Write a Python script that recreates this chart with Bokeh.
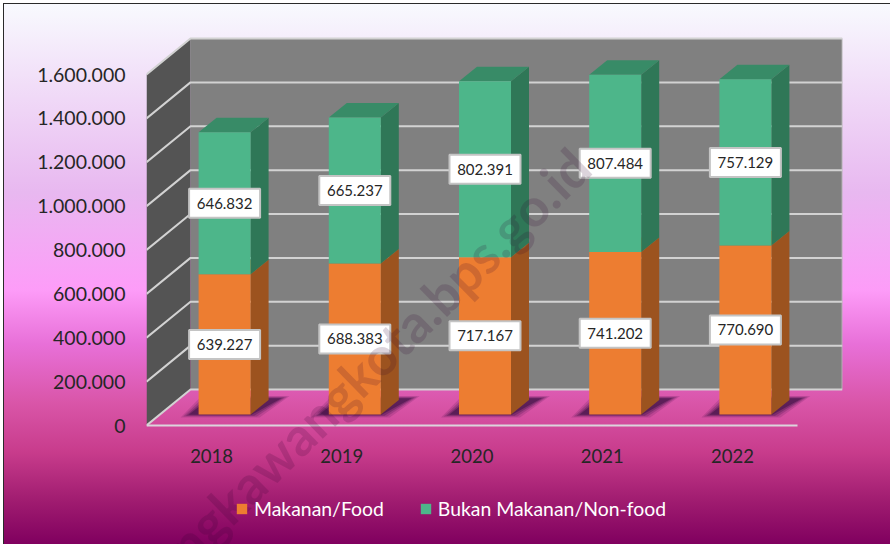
from bokeh.embed import file_html
from bokeh.resources import INLINE
from bokeh.plotting import figure
from bokeh.models import FixedTicker, Legend, LegendItem, Label, ColumnDataSource, Range1d

years = ["2018", "2019", "2020", "2021", "2022"]
food = [639227, 688383, 717167, 741202, 770690]
nonfood = [646832, 665237, 802391, 807484, 757129]
y_ticks = [0, 200000, 400000, 600000, 800000, 1000000, 1200000, 1400000, 1600000]
FONT = "Lato"

def fmt(v):
    return f"{v:,}".replace(",", ".")

# page geometry
FIG_X, FIG_Y, W, H = 3, 3, 887, 541
F_L, F_R, F_T, F_B = 146, 842, 36, 544
ZERO_PX = 425            # page y of the value 0
SX = 130.2               # px per category
SY = 351 / 1600000       # px per value
x0, x1 = -0.5, -0.5 + (F_R - F_L) / SX
y0, y1 = -(F_B - ZERO_PX) / SY, (ZERO_PX - F_T) / SY

# 3D offsets, in data units
WALL_DX, WALL_DY = 44 / SX, 36 / SY
BAR_W = 52 / SX
BAR_SHIFT = 13 / SX
BAR_BASE = 11 / SY
BAR_DX, BAR_DY = 18 / SX, 14.5 / SY
ymax = y_ticks[-1]
xn = len(years) - 0.5

p = figure(width=W, height=H, output_backend="svg", toolbar_location=None,
           x_range=Range1d(x0, x1), y_range=Range1d(y0, y1),
           min_border_left=F_L - FIG_X, min_border_right=FIG_X + W - F_R,
           min_border_top=F_T - FIG_Y, min_border_bottom=0,
           border_fill_color=None, background_fill_color=None, outline_line_color=None)
p.styles = {"position": "absolute", "left": f"{FIG_X}px", "top": f"{FIG_Y}px",
            "box-shadow": "inset 1px 1px 0 #2a2a2a",
            "background": "linear-gradient(180deg,#f8fafe 0%,#e8b8f0 35%,#fd9cf8 53%,"
                          "#e870d8 63%,#d955a8 74%,#c83c8c 83%,#a01c70 92%,#80005f 100%)"}
p.grid.visible = False

# axes
p.yaxis.ticker = FixedTicker(ticks=y_ticks)
p.yaxis.major_label_overrides = {t: fmt(t) for t in y_ticks}
p.xaxis.ticker = FixedTicker(ticks=list(range(len(years))))
p.xaxis.major_label_overrides = {i: y for i, y in enumerate(years)}
for ax in (p.xaxis[0], p.yaxis[0]):
    ax.axis_line_color = None
    ax.major_tick_line_color = None
    ax.minor_tick_line_color = None
    ax.major_label_text_font = FONT
    ax.major_label_text_color = "#262626"
p.yaxis.major_label_text_font_size = "19.5px"
p.xaxis.major_label_text_font_size = "18.5px"
p.yaxis.major_label_standoff = 15
p.xaxis.major_label_standoff = 442 - F_B

# walls
p.patch([x0 + WALL_DX, x1, x1, x0 + WALL_DX], [WALL_DY, WALL_DY, ymax + WALL_DY, ymax + WALL_DY],
        fill_color="#808080", line_color=None)
p.patch([x0, x0 + WALL_DX, x0 + WALL_DX, x0], [0, WALL_DY, ymax + WALL_DY, ymax],
        fill_color="#545454", line_color=None)
p.line([x1, x1], [WALL_DY, ymax + WALL_DY], line_color="#d2d2d2", line_width=2, line_alpha=0.6)

# gridlines
grid_x = [[x0, x0 + WALL_DX, x1] for _ in y_ticks]
grid_y = [[t, t + WALL_DY, t + WALL_DY] for t in y_ticks]
p.multi_line(grid_x, grid_y, line_color="#d2d2d2", line_width=2)
p.line([x0, xn], [0, 0], line_color="#dcd4dc", line_width=2)

# bars
for i, (f, n) in enumerate(zip(food, nonfood)):
    cx = i + BAR_SHIFT
    l, r = cx - BAR_W / 2, cx + BAR_W / 2
    b = BAR_BASE
    # soft floor shadow
    for grow, alpha in ((1.0, 0.14), (0.7, 0.2), (0.4, 0.28), (0.1, 0.42)):
        gx, gy = grow * 9 / SX, grow * 5 / SY
        p.patch([l - 9 / SX - gx, r + gx, r + 30 / SX + gx, l + 12 / SX - gx],
                [b - gy * 0.6, b - gy * 0.6, b + 16 / SY + gy * 0.5, b + 16 / SY + gy * 0.5],
                fill_color="#2a0a3a", fill_alpha=alpha, line_color=None)

def faces(bottoms, tops, front, side, top):
    xl = [i + BAR_SHIFT - BAR_W / 2 for i in range(len(years))]
    xr = [i + BAR_SHIFT + BAR_W / 2 for i in range(len(years))]
    p.patches([[r, r + BAR_DX, r + BAR_DX, r] for r in xr],
              [[b, b + BAR_DY, t + BAR_DY, t] for b, t in zip(bottoms, tops)],
              fill_color=side, line_color=None)
    p.patches([[l, r, r + BAR_DX, l + BAR_DX] for l, r in zip(xl, xr)],
              [[t, t, t + BAR_DY, t + BAR_DY] for t in tops],
              fill_color=top, line_color=None)
    return p.quad(left=xl, right=xr, bottom=bottoms, top=tops, fill_color=front, line_color=None)

food_top = [BAR_BASE + f for f in food]
all_top = [t + n for t, n in zip(food_top, nonfood)]
r_food = faces([BAR_BASE] * 5, food_top, "#ED7D31", "#9C531F", "#B5601F")
r_non = faces(food_top, all_top, "#4DB68A", "#2F7757", "#388B67")

# data labels
lab_x, lab_y, lab_t = [], [], []
for i in range(len(years)):
    lab_x += [i + BAR_SHIFT] * 2
    lab_y += [BAR_BASE + food[i] / 2, food_top[i] + nonfood[i] / 2]
    lab_t += [fmt(food[i]), fmt(nonfood[i])]
src = ColumnDataSource(dict(x=lab_x, y=lab_y, t=lab_t))
p.rect("x", "y", source=src, width=71, height=29, width_units="screen", height_units="screen",
       fill_color="white", line_color="#c4c4c4", line_width=2)
p.text("x", "y", text="t", source=src, text_align="center", text_baseline="middle",
       text_font={"value": FONT}, text_font_size="15px", text_color="#262626")

# legend
legend = Legend(items=[LegendItem(label="Makanan/Food", renderers=[r_food]),
                       LegendItem(label="Bukan Makanan/Non-food", renderers=[r_non])],
                orientation="horizontal", location=(235 - F_L, F_B - 520),
                background_fill_alpha=0, border_line_color=None,
                label_text_font=FONT, label_text_font_size="19.4px", label_text_color="white",
                glyph_width=13, glyph_height=13, spacing=35, label_standoff=6,
                margin=0, padding=0)
p.add_layout(legend, "center")

# watermark
p.add_layout(Label(x=x0 + (580 - F_L) / SX, y=(ZERO_PX - 157) / SY,
                   text="singkawangkota.bps.go.id", angle=0.775, angle_units="rad",
                   text_align="right", text_baseline="middle", text_font=FONT,
                   text_font_style="bold", text_font_size="53px",
                   text_color="#300030", text_alpha=0.17))

open("out.html", "w").write(file_html(p, INLINE))
